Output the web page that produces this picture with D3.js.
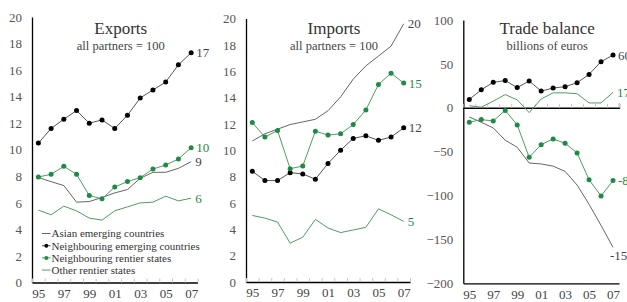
<!DOCTYPE html>
<html>
<head>
<meta charset="utf-8">
<script src="https://cdn.jsdelivr.net/npm/d3@7"></script>
<style>
  body { margin: 0; background: #fff; }
  svg { display: block; font-family: "Liberation Serif", "DejaVu Serif", serif; }
</style>
</head>
<body>
<div id="wrapper"></div>
<script>
const years = d3.range(1995, 2008)
const yearLabels = [1995, 1997, 1999, 2001, 2003, 2005, 2007]

// Exports, all partners = 100
const asianExp = [7.9, 7.6, 7.3, 6.05, 6.1, 6.4, 6.75, 7.0, 7.85, 8.3, 8.3, 8.6, 9.1]
const neighEmExp = [10.5, 11.6, 12.3, 12.95, 12.0, 12.25, 11.6, 12.6, 13.9, 14.5, 15.1, 16.4, 17.3]
const neighRentExp = [7.95, 8.15, 8.75, 8.15, 6.55, 6.3, 7.2, 7.6, 7.9, 8.55, 8.85, 9.3, 10.15]
const otherRentExp = [5.45, 5.1, 5.75, 5.4, 4.85, 4.7, 5.4, 5.7, 6.0, 6.05, 6.5, 6.15, 6.35]

// Imports, all partners = 100
const asianImp = [10.7, 11.25, 11.6, 11.95, 12.15, 12.35, 13.0, 14.05, 15.4, 16.4, 17.15, 17.9, 19.6]
const neighEmImp = [8.4, 7.7, 7.7, 8.3, 8.2, 7.8, 9.0, 10.0, 10.9, 11.1, 10.75, 11.0, 11.7]
const neighRentImp = [12.1, 11.0, 11.5, 8.6, 8.8, 11.45, 11.15, 11.25, 11.95, 13.05, 15.0, 15.85, 15.1]
const otherRentImp = [5.05, 4.85, 4.55, 2.95, 3.4, 4.75, 4.1, 3.75, 3.95, 4.15, 5.55, 5.1, 4.6]

// Trade balance, billions of euros
const asianBal = [-10.5, -16.5, -23, -37, -45, -63, -64, -66.5, -72.5, -88, -110, -134, -159]
const neighEmBal = [9.5, 20.5, 29, 31, 23, 30.5, 19, 22.5, 24, 28.5, 38, 52.5, 60]
const neighRentBal = [-16.5, -13.5, -15, -3, -19.5, -56.5, -42, -35.5, -40.5, -51.5, -82, -100.5, -83]
const otherRentBal = [2.3, 0.7, 7.5, 15, 9, -5.5, 10, 17, 17, 16, 5.5, 5.5, 17.5]

const seriesNames = ["Asian emerging countries", "Neighbouring emerging countries",
  "Neighbouring rentier states", "Other rentier states"]

const grey = "#555"
const green = "#1e8a45"
const greenLine = "#4f9e63"
const styles = [
  { stroke: grey, width: 0.9, dot: null, label: "#444" },
  { stroke: "#444", width: 0.9, dot: "#000", label: "#444" },
  { stroke: greenLine, width: 1, dot: green, label: green },
  { stroke: greenLine, width: 1, dot: null, label: green },
]

const panels = [
  {
    title: "Exports", sub: "all partners = 100",
    series: [asianExp, neighEmExp, neighRentExp, otherRentExp],
    ends: ["9", "17", "10", "6"],
    domain: [0, 20], ticks: [0, 2, 4, 6, 8, 10, 12, 14, 16, 18, 20],
    left: 32, right: 197.5, top: 17, bottom: 282.5, legend: true,
  },
  {
    title: "Imports", sub: "all partners = 100",
    series: [asianImp, neighEmImp, neighRentImp, otherRentImp],
    ends: ["20", "12", "15", "5"],
    domain: [0, 20], ticks: [0, 2, 4, 6, 8, 10, 12, 14, 16, 18, 20],
    left: 246, right: 410, top: 18.5, bottom: 282, legend: false,
  },
  {
    title: "Trade balance", sub: "billions of euros",
    series: [asianBal, neighEmBal, neighRentBal, otherRentBal],
    ends: ["-159", "60", "-83", "17"],
    domain: [-200, 100], ticks: [-200, -150, -100, -50, 0, 50, 100],
    left: 463.3, right: 619, top: 20, bottom: 283.3, legend: false,
  },
]

const svg = d3.select("#wrapper").append("svg")
  .attr("width", 627)
  .attr("height", 302)

panels.forEach(p => {
  const g = svg.append("g")
  const x = d3.scaleLinear().domain([1994.5, 2007.5]).range([p.left, p.right])
  const y = d3.scaleLinear().domain(p.domain).range([p.bottom, p.top])

  // y axis
  g.append("g")
    .attr("transform", `translate(${p.left},0)`)
    .call(d3.axisLeft(y).tickValues(p.ticks).tickSize(0).tickPadding(10).tickFormat(d3.format("d")))
    .call(a => a.select(".domain").attr("stroke", "#000").attr("stroke-width", 1.3))
    .call(a => a.selectAll("text").attr("fill", "#555").style("font-size", "13px")
      .style("font-family", "Liberation Serif"))

  // x labels + bottom line
  g.append("g")
    .attr("transform", `translate(0,${p.bottom})`)
    .call(d3.axisBottom(x).tickValues(yearLabels).tickSize(0).tickPadding(6)
      .tickFormat(d => String(d).slice(2)))
    .call(a => a.select(".domain").attr("stroke", "#000").attr("stroke-width", 1.3))
    .call(a => a.selectAll("text").attr("fill", "#444").style("font-size", "13px")
      .style("font-family", "Liberation Serif"))

  // small year ticks on the zero line
  const zeroY = y(Math.max(0, p.domain[0]))
  g.append("g")
    .attr("transform", `translate(0,${zeroY})`)
    .call(d3.axisBottom(x).tickValues(d3.range(1994.5, 2008, 1)).tickSize(-4).tickFormat(""))
    .call(a => a.select(".domain").attr("stroke", "#000").attr("stroke-width", p.domain[0] < 0 ? 1.3 : 0))
    .call(a => a.selectAll(".tick line").attr("stroke", "#c8c8c8"))

  // titles
  const cx = (p.left + p.right) / 2 + 6
  g.append("text").attr("x", cx).attr("y", 34).attr("text-anchor", "middle")
    .attr("fill", "#333").style("font-size", "17px").text(p.title)
  g.append("text").attr("x", cx).attr("y", 50).attr("text-anchor", "middle")
    .attr("fill", "#444").style("font-size", "12.5px").text(p.sub)

  const line = d3.line().x((d, i) => x(years[i])).y(d => y(d))

  // draw order: thin lines first, then dotted series
  const order = [0, 3, 1, 2]
  order.forEach(k => {
    const s = styles[k]
    const vals = p.series[k]
    g.append("path").datum(vals)
      .attr("fill", "none")
      .attr("stroke", s.stroke)
      .attr("stroke-width", s.width)
      .attr("d", line)
    if (s.dot) {
      g.selectAll(null).data(vals).enter().append("circle")
        .attr("cx", (d, i) => x(years[i]))
        .attr("cy", d => y(d))
        .attr("r", 2.5)
        .attr("fill", s.dot)
    }
    const last = vals[vals.length - 1]
    const isLowBal = p.domain[0] < 0 && k === 0
    g.append("text")
      .attr("x", x(2007) + (isLowBal ? -3 : (s.dot ? 5 : 4)))
      .attr("y", y(last) + (isLowBal ? 13 : 4.5))
      .attr("fill", s.label)
      .style("font-size", "13px")
      .text(p.ends[k])
  })

  if (p.legend) {
    const lg = g.append("g")
    seriesNames.forEach((name, k) => {
      const s = styles[k]
      const yy = 233.5 + k * 12.2
      lg.append("line").attr("x1", 42).attr("x2", 50.5).attr("y1", yy).attr("y2", yy)
        .attr("stroke", s.stroke).attr("stroke-width", s.width)
      if (s.dot) lg.append("circle").attr("cx", 46.3).attr("cy", yy).attr("r", 2).attr("fill", s.dot)
      lg.append("text").attr("x", 51.5).attr("y", yy + 3.8)
        .attr("fill", "#333").style("font-size", "11px").text(name)
    })
  }
})
</script>
</body>
</html>
